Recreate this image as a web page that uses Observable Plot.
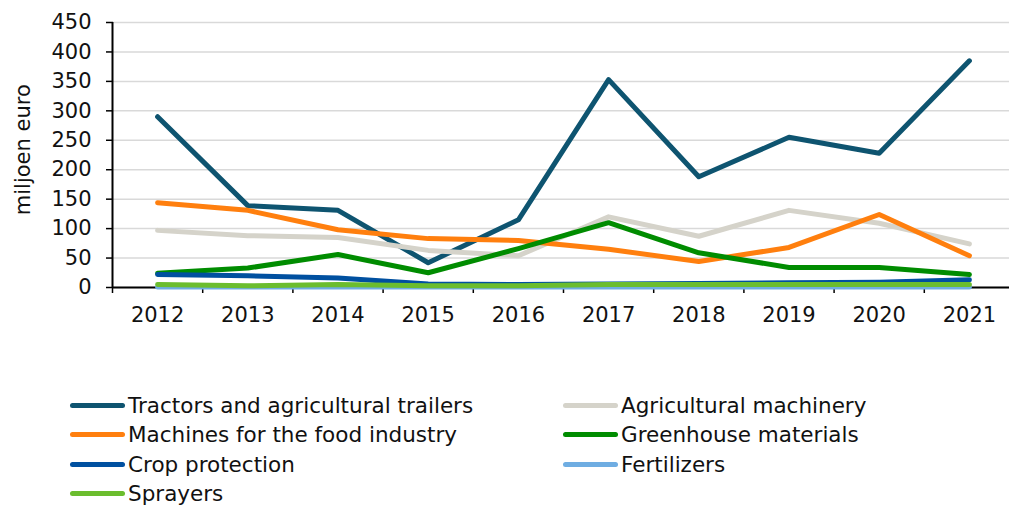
<!DOCTYPE html>
<html>
<head>
<meta charset="utf-8">
<script src="https://cdn.jsdelivr.net/npm/d3@7"></script>
<script src="https://cdn.jsdelivr.net/npm/@observablehq/plot@0.6"></script>
<style>
  html, body { margin: 0; padding: 0; background: #fff; }
  body { width: 1009px; height: 505px; overflow: hidden; font-family: "DejaVu Sans", Verdana, sans-serif; }
  #wrap { position: relative; width: 1009px; height: 505px; }
  #legend { position: absolute; left: 0; top: 0; width: 1009px; height: 505px; pointer-events: none; }
  .item { position: absolute; display: flex; align-items: center; height: 28px; transform: translateY(-50%); font-size: 21.5px; color: #111; white-space: nowrap; }
  .sw { width: 55px; height: 5px; border-radius: 3px; margin-right: 3px; }
  svg { overflow: visible; }
</style>
</head>
<body>
<div id="wrap"><div id="chart"></div><div id="legend"></div></div>
<script>
const years = [2012, 2013, 2014, 2015, 2016, 2017, 2018, 2019, 2020, 2021];
const seriesNames = [
  "Tractors and agricultural trailers",
  "Agricultural machinery",
  "Machines for the food industry",
  "Greenhouse materials",
  "Crop protection",
  "Fertilizers",
  "Sprayers"
];
const colors = ["#0e5470", "#d5d3ca", "#ff7f0e", "#008c00", "#0050a0", "#6fade2", "#6bbd2e"];
const tractors   = [290, 139, 131, 42, 115, 353, 188, 255, 228, 385];
const agriMach   = [97, 88, 85, 63, 54, 120, 87, 131, 109, 74];
const foodMach   = [144, 131, 98, 83, 80, 65, 44, 68, 124, 54];
const greenhouse = [24, 33, 56, 25, 66, 110, 59, 34, 34, 22];
const cropProt   = [22, 20, 16, 6, 5, 6, 7, 8, 9, 13];
const fertilizers= [1, 1, 1, 1, 1, 1, 1, 1, 1, 1];
const sprayers   = [5, 3, 5, 3, 3, 5, 5, 5, 5, 5];
const yTicks = [0, 50, 100, 150, 200, 250, 300, 350, 400, 450];
const yLabel = "miljoen euro";

const allSeries = [tractors, agriMach, foodMach, greenhouse, cropProt, fertilizers, sprayers];
const data = [];
allSeries.forEach((vals, i) => vals.forEach((v, j) => data.push({series: seriesNames[i], year: years[j], value: v})));
const boundaries = [years[0] - 0.5, ...years.map(y => y + 0.5)];

const chart = Plot.plot({
  width: 1009,
  height: 337,
  marginLeft: 113,
  marginTop: 22,
  marginBottom: 50,
  marginRight: 0,
  style: {fontFamily: "DejaVu Sans, Verdana, sans-serif", fontSize: "21px", color: "#111", overflow: "visible"},
  x: {domain: [years[0] - 0.5, years[years.length - 1] + 0.5], range: [112, 1014]},
  y: {domain: [0, 450]},
  color: {domain: seriesNames, range: colors},
  marks: [
    Plot.gridY(yTicks, {stroke: "#d9d9d9", strokeOpacity: 1, strokeWidth: 1.5}),
    Plot.axisY(yTicks, {tickSize: 7, tickPadding: 15, stroke: "#000", strokeWidth: 1.5, fontSize: 21, label: null}),
    Plot.axisX(years, {tickSize: 0, tickPadding: 20, tickFormat: "d", fontSize: 21, label: null}),
    Plot.axisX(boundaries, {tickSize: 6, tickFormat: () => "", stroke: "#000", strokeWidth: 1.5, label: null}),
    Plot.ruleX([boundaries[0]], {y1: 0, y2: 450, stroke: "#000", strokeWidth: 2}),
    Plot.ruleY([0], {stroke: "#000", strokeWidth: 2}),
    Plot.line(data, {x: "year", y: "value", z: "series", stroke: "series", strokeWidth: 5, strokeLinecap: "round", strokeLinejoin: "round"}),
    Plot.text([yLabel], {frameAnchor: "left", textAnchor: "middle", dx: -90, rotate: -90, fontSize: 21, text: d => d, y: 234, fill: "#111"})
  ]
});
document.getElementById("chart").appendChild(chart);

const legend = document.getElementById("legend");
const cols = [70, 563];
const rows = [405, 434.5, 464, 493.5];
seriesNames.forEach((name, i) => {
  const el = document.createElement("div");
  el.className = "item";
  el.style.left = cols[i % 2] + "px";
  el.style.top = rows[Math.floor(i / 2)] + "px";
  el.innerHTML = `<span class="sw" style="background:${colors[i]}"></span><span>${name}</span>`;
  legend.appendChild(el);
});
</script>
</body>
</html>
